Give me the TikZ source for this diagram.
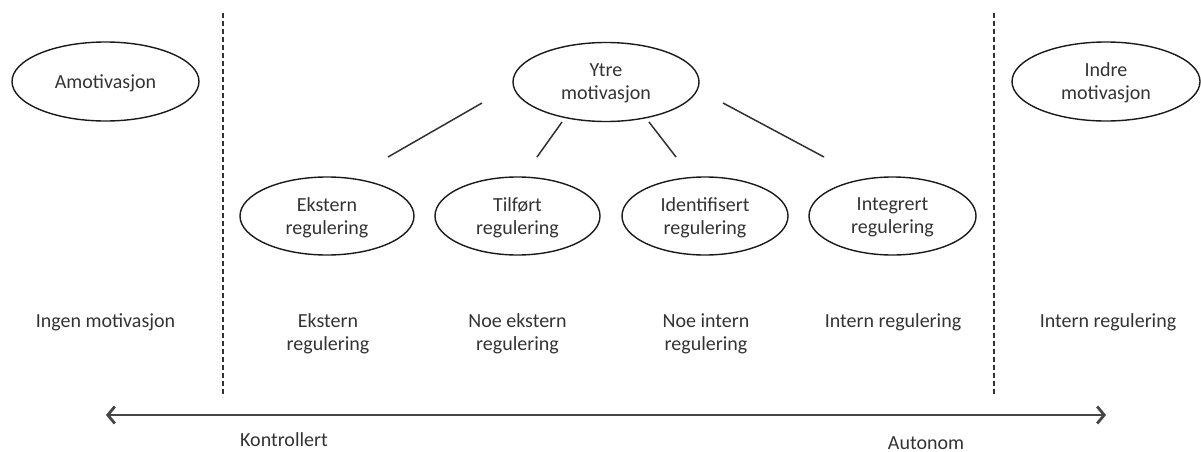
\documentclass[tikz,border=0pt]{standalone}
\usepackage{fontspec}
\setmainfont{Carlito}
\usetikzlibrary{shapes.geometric,arrows.meta,calc}
\definecolor{txt}{HTML}{333333}
\definecolor{edge}{HTML}{1A1A1A}
\definecolor{axisgray}{HTML}{454545}
\begin{document}
\begin{tikzpicture}[x=1pt,y=-1pt,
  oval/.style={ellipse,draw=edge,line width=1.4pt,inner sep=0pt,align=center,
    font=\fontsize{20}{23}\selectfont,text=txt,text depth=0pt},
  lbl/.style={align=center,font=\fontsize{20}{23}\selectfont,text=txt},
  link/.style={draw=edge!90,line width=1.5pt},
  divider/.style={draw=black!80,line width=1.7pt,dash pattern=on 5pt off 3pt},
  axisline/.style={draw=axisgray,line width=2.8pt,
    {Straight Barb[length=7pt,width=17pt]}-{Straight Barb[length=7pt,width=17pt]}}]
\useasboundingbox (0,0) rectangle (1201,452);

% top row
\node[oval,minimum width=187pt,minimum height=79pt] (amo) at (105.5,81.5) {Amotivasjon};
\node[oval,minimum width=186pt,minimum height=79pt] (ytre) at (606,82) {Ytre\\motivasjon};
\node[oval,minimum width=188pt,minimum height=79pt] (indre) at (1106,81.5) {Indre\\motivasjon};

% second row
\node[oval,minimum width=174pt,minimum height=78pt] (ekst) at (327,216) {Ekstern\\regulering};
\node[oval,minimum width=165pt,minimum height=78pt] (tilf) at (517.5,216) {Tilført\\regulering};
\node[oval,minimum width=166pt,minimum height=78pt] (ident) at (705,216) {Identifisert\\regulering};
\node[oval,minimum width=167pt,minimum height=78pt] (integ) at (892.5,216) {Integrert\\regulering};

% connectors (free-standing, not touching the ovals)
\draw[link] ($(ytre)+(-124,21)$) -- ($(ekst)+(61,-59)$);
\draw[link] ($(ytre)+(-44,40)$) -- ($(tilf)+(19.5,-59)$);
\draw[link] ($(ytre)+(43,40)$) -- ($(ident)+(-29,-59)$);
\draw[link] ($(ytre)+(117,21)$) -- ($(integ)+(-68.5,-59)$);

% regulation labels
\node[lbl,anchor=base] (l1) at (105.5,327) {Ingen motivasjon};
\node[lbl,anchor=base] (l2) at (328,350) {Ekstern\\regulering};
\node[lbl,anchor=base] (l3) at (517.5,350) {Noe ekstern\\regulering};
\node[lbl,anchor=base] (l4) at (706,350) {Noe intern\\regulering};
\node[lbl,anchor=base] (l5) at (893,327) {Intern regulering};
\node[lbl,anchor=base] (l6) at (1108,327) {Intern regulering};

% dividers
\coordinate (d1t) at (222.7,13);
\coordinate (d1b) at (222.7,397);
\coordinate (d2t) at (994,13);
\coordinate (d2b) at (994,396);
\draw[divider] (d1t) -- (d1b);
\draw[divider] (d2t) -- (d2b);

% axis
\coordinate (axl) at (106,415);
\coordinate (axr) at (1106,415);
\draw[axisline] (axl) -- (axr);
\node[lbl] (kontr) at (284,440) {Kontrollert};
\node[lbl] (auto) at (926,443) {Autonom};
\end{tikzpicture}
\end{document}
